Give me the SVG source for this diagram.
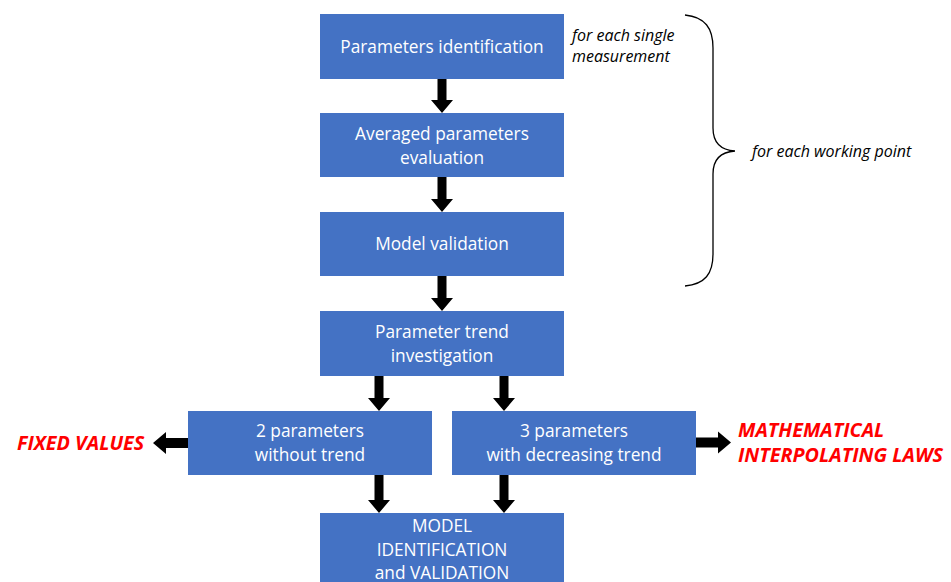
<svg xmlns="http://www.w3.org/2000/svg" width="951" height="582" viewBox="0 0 951 582">
<style>
.box{fill:#4472C4}
.bt{font-family:"Open Sans","Liberation Sans",sans-serif;font-size:17.3px;fill:#fff;text-anchor:middle}
.note{font-family:"Open Sans","Liberation Sans",sans-serif;font-size:16px;font-style:italic;fill:#000}
.red{font-family:"Open Sans","Liberation Sans",sans-serif;font-size:19.8px;font-style:italic;font-weight:bold;fill:#FF0000}
.arr{fill:#000}
</style>
<rect width="951" height="582" fill="#fff"/>
<g id="n1"><rect class="box" x="320" y="14" width="244" height="65"/><text class="bt" x="442" y="52.5">Parameters identification</text></g>
<g id="n2"><rect class="box" x="320" y="113" width="244" height="64"/><text class="bt" x="442" y="140">Averaged parameters</text><text class="bt" x="442" y="164">evaluation</text></g>
<g id="n3"><rect class="box" x="320" y="212" width="244" height="64"/><text class="bt" x="442" y="250">Model validation</text></g>
<g id="n4"><rect class="box" x="320" y="311" width="244" height="65"/><text class="bt" x="442" y="338">Parameter trend</text><text class="bt" x="442" y="362">investigation</text></g>
<g id="n5"><rect class="box" x="188" y="411" width="244" height="64"/><text class="bt" x="310" y="437">2 parameters</text><text class="bt" x="310" y="461">without trend</text></g>
<g id="n6"><rect class="box" x="452" y="411" width="244" height="64"/><text class="bt" x="574" y="437">3 parameters</text><text class="bt" x="574" y="461">with decreasing trend</text></g>
<g id="n7"><rect class="box" x="320" y="513" width="244" height="75"/><text class="bt" x="442" y="532">MODEL</text><text class="bt" x="442" y="556">IDENTIFICATION</text><text class="bt" x="442" y="579">and VALIDATION</text></g>
<g id="notes">
<text class="note" x="572" y="41">for each single</text>
<text class="note" x="572" y="62">measurement</text>
<text class="note" x="752" y="157">for each working point</text>
<path d="M685,15 C705,17 713,28 713,48 L713,128 C713,142 720,150 735,151 C720,152 713,160 713,174 L713,254 C713,274 705,284 685,286" fill="none" stroke="#000" stroke-width="1.3"/>
<text class="red" x="17" y="450">FIXED VALUES</text>
<text class="red" x="738" y="437">MATHEMATICAL</text>
<text class="red" x="738" y="462">INTERPOLATING LAWS</text>
</g>
<g id="connectors">
<polygon class="arr" points="437.5,79 446.5,79 446.5,100 453,100 442,113 431,100 437.5,100"/>
<polygon class="arr" points="437.5,177 446.5,177 446.5,199 453,199 442,212 431,199 437.5,199"/>
<polygon class="arr" points="437.5,276 446.5,276 446.5,298 453,298 442,311 431,298 437.5,298"/>
<polygon class="arr" points="374.5,376 383.5,376 383.5,398 390,398 379,411 368,398 374.5,398"/>
<polygon class="arr" points="499.5,376 508.5,376 508.5,398 515,398 504,411 493,398 499.5,398"/>
<polygon class="arr" points="374.5,475 383.5,475 383.5,500 390,500 379,513 368,500 374.5,500"/>
<polygon class="arr" points="499.5,475 508.5,475 508.5,500 515,500 504,513 493,500 499.5,500"/>
<polygon class="arr" points="188,438 166,438 166,432 153,443 166,454 166,448 188,448"/>
<polygon class="arr" points="696,437.5 718,437.5 718,431.5 731,442.5 718,453.5 718,447.5 696,447.5"/>
</g>
</svg>
